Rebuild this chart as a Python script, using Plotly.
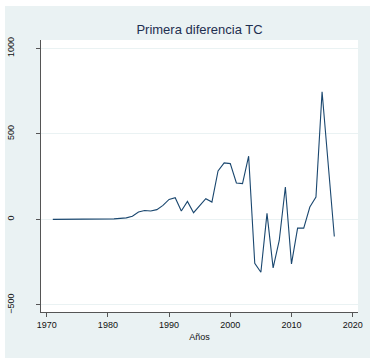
import plotly.graph_objects as go

years = list(range(1971, 2018))
diff_tc = [0, 0, 0, 1, 3, 2, 1, 1, 2, 2, 3, 6, 9, 18,
           43, 52, 49, 57, 82, 117, 127, 49, 105, 39, 82, 121, 101,
           283, 330, 326, 213, 209, 369, -256, -309, 35, -283, -123,
           189, -260, -51, -51, 72, 131, 746, 323, -100]

y_ticks = [-500, 0, 500, 1000]
x_ticks = [1970, 1980, 1990, 2000, 2010, 2020]

# figure placed at page offset (5, 6); light panel covers 5..370 x 6..358
OX, OY = 5, 6
W, H = 365, 352
L, R, T, B = 41 - OX, 12, 40 - OY, 46
pw = W - L - R

bg = "#EAF2F3"
font_fam = "Arial, Liberation Sans, sans-serif"

fig = go.Figure()
fig.add_trace(go.Scatter(x=years, y=diff_tc, mode="lines",
                         line=dict(color="#1a476f", width=1.1),
                         hoverinfo="skip", showlegend=False))

fig.update_layout(
    width=W, height=H,
    margin=dict(l=L, r=R, t=T, b=B, pad=0, autoexpand=False),
    paper_bgcolor=bg, plot_bgcolor="white",
    title=dict(text="Primera diferencia TC", x=(L + pw / 2) / W, xanchor="center",
               y=1 - 23 / H, yanchor="middle", automargin=False,
               font=dict(family=font_fam, size=13, color="#1e2f50")),
    font=dict(family=font_fam, size=9, color="#111111"),
    hovermode=False,
    xaxis=dict(range=[1969.07, 2020.87], tickvals=x_ticks, showgrid=False,
               automargin=False,
               zeroline=False, showline=True, linecolor="#555555", linewidth=1,
               ticks="outside", ticklen=4, tickcolor="#555555",
               tickfont=dict(size=9, color="#111111"),
               title=dict(text="Años", font=dict(size=9, color="#111111"), standoff=4)),
    yaxis=dict(range=[-541, 1048], tickvals=y_ticks, showgrid=True,
               automargin=False,
               gridcolor=bg, gridwidth=1, zeroline=False,
               showline=True, linecolor="#555555", linewidth=1,
               ticks="outside", ticklen=4, tickcolor="#555555",
               tickangle=-90, ticklabelstandoff=18,
               tickfont=dict(size=9, color="#111111")),
)

fig.write_html("out.html", config={"displayModeBar": False},
               post_script="document.body.style.margin='6px 0 0 5px';"
                           "document.body.style.overflow='hidden';"
                           "document.body.style.background='white';")
